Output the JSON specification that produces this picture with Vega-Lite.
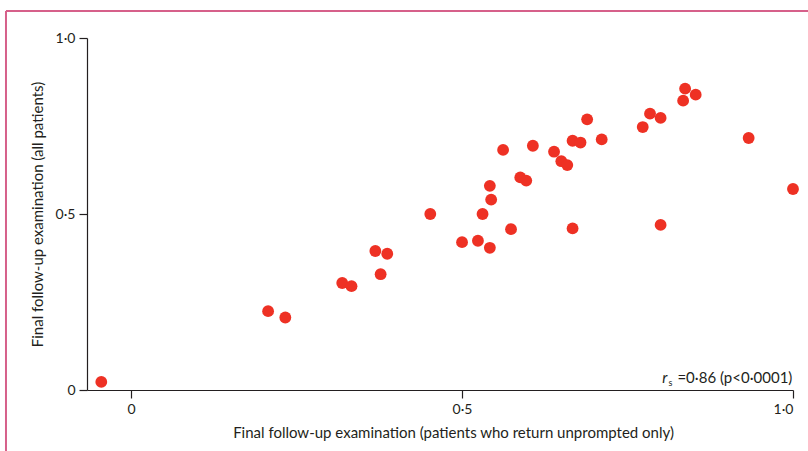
{
  "$schema": "https://vega.github.io/schema/vega-lite/v6.json",
  "autosize": {"type": "none"},
  "width": 706,
  "height": 352,
  "padding": {"left": 87, "top": 38, "right": 15, "bottom": 61},
  "background": "white",
  "config": {
    "view": {"stroke": null},
    "font": "Lato",
    "axis": {
      "domainColor": "#231f20",
      "tickColor": "#231f20",
      "labelColor": "#231f20",
      "titleColor": "#231f20",
      "labelFont": "Lato",
      "titleFont": "Lato",
      "labelFontSize": 14,
      "titleFontSize": 15,
      "titleFontWeight": "normal",
      "tickSize": 8,
      "domainWidth": 1.2,
      "tickWidth": 1.2,
      "grid": false
    }
  },
  "datasets": {
    "pts": [
      {"x": -0.045, "y": 0.023},
      {"x": 0.207, "y": 0.224},
      {"x": 0.233, "y": 0.206},
      {"x": 0.319, "y": 0.304},
      {"x": 0.333, "y": 0.295},
      {"x": 0.369, "y": 0.395},
      {"x": 0.387, "y": 0.387},
      {"x": 0.377, "y": 0.329},
      {"x": 0.452, "y": 0.500},
      {"x": 0.500, "y": 0.420},
      {"x": 0.524, "y": 0.424},
      {"x": 0.542, "y": 0.404},
      {"x": 0.531, "y": 0.500},
      {"x": 0.542, "y": 0.580},
      {"x": 0.544, "y": 0.541},
      {"x": 0.562, "y": 0.682},
      {"x": 0.574, "y": 0.457},
      {"x": 0.588, "y": 0.604},
      {"x": 0.597, "y": 0.595},
      {"x": 0.607, "y": 0.694},
      {"x": 0.639, "y": 0.677},
      {"x": 0.650, "y": 0.650},
      {"x": 0.659, "y": 0.639},
      {"x": 0.667, "y": 0.708},
      {"x": 0.679, "y": 0.703},
      {"x": 0.667, "y": 0.459},
      {"x": 0.689, "y": 0.769},
      {"x": 0.711, "y": 0.712},
      {"x": 0.773, "y": 0.747},
      {"x": 0.784, "y": 0.785},
      {"x": 0.800, "y": 0.773},
      {"x": 0.800, "y": 0.469},
      {"x": 0.834, "y": 0.822},
      {"x": 0.837, "y": 0.856},
      {"x": 0.853, "y": 0.839},
      {"x": 0.933, "y": 0.716},
      {"x": 1.000, "y": 0.571}
    ]
  },
  "layer": [
    {
      "data": {"name": "pts"},
      "mark": {"type": "circle", "size": 140, "color": "#ee3124", "opacity": 1},
      "encoding": {
        "x": {
          "field": "x", "type": "quantitative",
          "scale": {"domain": [-0.0666, 1.0], "nice": false, "zero": false},
          "axis": {
            "values": [0, 0.5, 1],
            "title": "Final follow-up examination (patients who return unprompted only)",
            "labelExpr": "datum.value == 0 ? '0' : replace(format(datum.value, '.1f'), '.', '·')",
            "labelPadding": 4,
            "titlePadding": 9,
            "titleX": 366
          }
        },
        "y": {
          "field": "y", "type": "quantitative",
          "scale": {"domain": [0, 1], "nice": false, "zero": false},
          "axis": {
            "values": [0, 0.5, 1],
            "title": "Final follow-up examination (all patients)",
            "labelExpr": "datum.value == 0 ? '0' : replace(format(datum.value, '.1f'), '.', '·')",
            "labelPadding": 4,
            "titlePadding": 10
          }
        }
      }
    },
    {
      "data": {"values": [{}]},
      "mark": {"type": "rule", "color": "#d6608a", "strokeWidth": 2},
      "encoding": {
        "x": {"datum": -0.189, "type": "quantitative"},
        "x2": {"datum": 1.05},
        "y": {"datum": 1.077, "type": "quantitative"},
        "y2": {"datum": 1.077}
      }
    },
    {
      "data": {"values": [{}]},
      "mark": {"type": "rule", "color": "#d6608a", "strokeWidth": 2},
      "encoding": {
        "x": {"datum": -0.189, "type": "quantitative"},
        "x2": {"datum": -0.189},
        "y": {"datum": 1.077, "type": "quantitative"},
        "y2": {"datum": -0.25}
      }
    },
    {
      "data": {"values": [{"t": "=0·86 (p<0·0001)"}]},
      "mark": {"type": "text", "align": "right", "baseline": "alphabetic", "fontSize": 15, "color": "#231f20"},
      "encoding": {
        "x": {"datum": 0.999, "type": "quantitative"},
        "y": {"datum": 0.02, "type": "quantitative"},
        "text": {"field": "t"}
      }
    },
    {
      "data": {"values": [{"t": "r"}]},
      "mark": {"type": "text", "align": "right", "baseline": "alphabetic", "fontSize": 15, "fontStyle": "italic", "color": "#231f20", "dx": -125},
      "encoding": {
        "x": {"datum": 0.999, "type": "quantitative"},
        "y": {"datum": 0.02, "type": "quantitative"},
        "text": {"field": "t"}
      }
    },
    {
      "data": {"values": [{"t": "s"}]},
      "mark": {"type": "text", "align": "right", "baseline": "alphabetic", "fontSize": 9, "color": "#231f20", "dx": -120, "dy": 3},
      "encoding": {
        "x": {"datum": 0.999, "type": "quantitative"},
        "y": {"datum": 0.02, "type": "quantitative"},
        "text": {"field": "t"}
      }
    }
  ]
}
